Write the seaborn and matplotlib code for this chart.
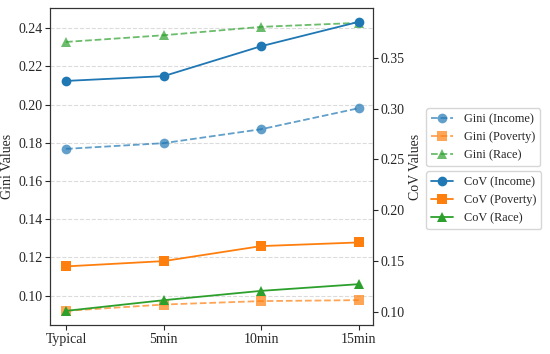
import numpy as np
import pandas as pd
import seaborn as sns
import matplotlib.pyplot as plt

# Data
categories = ["Typical", "5min", "10min", "15min"]
gini_income = [0.1768, 0.1798, 0.1871, 0.1981]
gini_poverty = [0.0920, 0.0953, 0.0971, 0.0976]
gini_race = [0.2328, 0.2363, 0.2407, 0.2428]
cov_income = [0.3273, 0.3320, 0.3615, 0.3855]
cov_poverty = [0.1446, 0.1498, 0.1646, 0.1682]
cov_race = [0.1008, 0.1113, 0.1205, 0.1271]

sns.set_style("ticks")
plt.rcParams['font.family'] = ['Liberation Serif', 'DejaVu Serif']
plt.rcParams['font.size'] = 10
plt.rcParams['xtick.major.size'] = 3.5
plt.rcParams['ytick.major.size'] = 3.5
plt.rcParams['xtick.major.pad'] = 2
plt.rcParams['ytick.major.pad'] = 2

colors = sns.color_palette("tab10", 3)
markers = ["o", "s", "^"]

fig, ax = plt.subplots(figsize=(5.5, 3.54), dpi=100)
fig.subplots_adjust(left=0.091, right=0.678, top=0.977, bottom=0.082)
ax2 = ax.twinx()

gini = [("Gini (Income)", gini_income), ("Gini (Poverty)", gini_poverty), ("Gini (Race)", gini_race)]
cov = [("CoV (Income)", cov_income), ("CoV (Poverty)", cov_poverty), ("CoV (Race)", cov_race)]

h1 = []
for (name, vals), c, m in zip(gini, colors, markers):
    sns.lineplot(x=categories, y=vals, ax=ax, color=c, marker=m, markersize=7,
                 linestyle="--", linewidth=1.3, alpha=0.7, markeredgewidth=0,
                 legend=False, sort=False)
    h1.append(ax.lines[-1])

h2 = []
for (name, vals), c, m in zip(cov, colors, markers):
    sns.lineplot(x=categories, y=vals, ax=ax2, color=c, marker=m, markersize=7,
                 linestyle="-", linewidth=1.3, markeredgewidth=0,
                 legend=False, sort=False)
    h2.append(ax2.lines[-1])

ax.set_ylim(0.0846, 0.2505)
ax2.set_ylim(0.0869, 0.399)
ax.set_xlim(-0.164, 3.146)
ax.set_yticks(np.arange(0.10, 0.241, 0.02))
ax2.set_yticks(np.arange(0.10, 0.351, 0.05))
ax.set_ylabel("Gini Values", labelpad=3)
ax2.set_ylabel("CoV Values", labelpad=3)
ax.grid(axis="y", linestyle="--", color="#cccccc", alpha=0.7)

for a in (ax, ax2):
    for s in a.spines.values():
        s.set_color("#333333")

fig.legend(h1, [g[0] for g in gini], loc="upper left", bbox_to_anchor=(0.764, 0.712),
           fontsize=8.8, frameon=True, handlelength=1.8, handletextpad=0.9)
fig.legend(h2, [c[0] for c in cov], loc="upper left", bbox_to_anchor=(0.764, 0.534),
           fontsize=8.8, frameon=True, handlelength=1.8, handletextpad=0.9)

plt.savefig("out.png", dpi=100)
